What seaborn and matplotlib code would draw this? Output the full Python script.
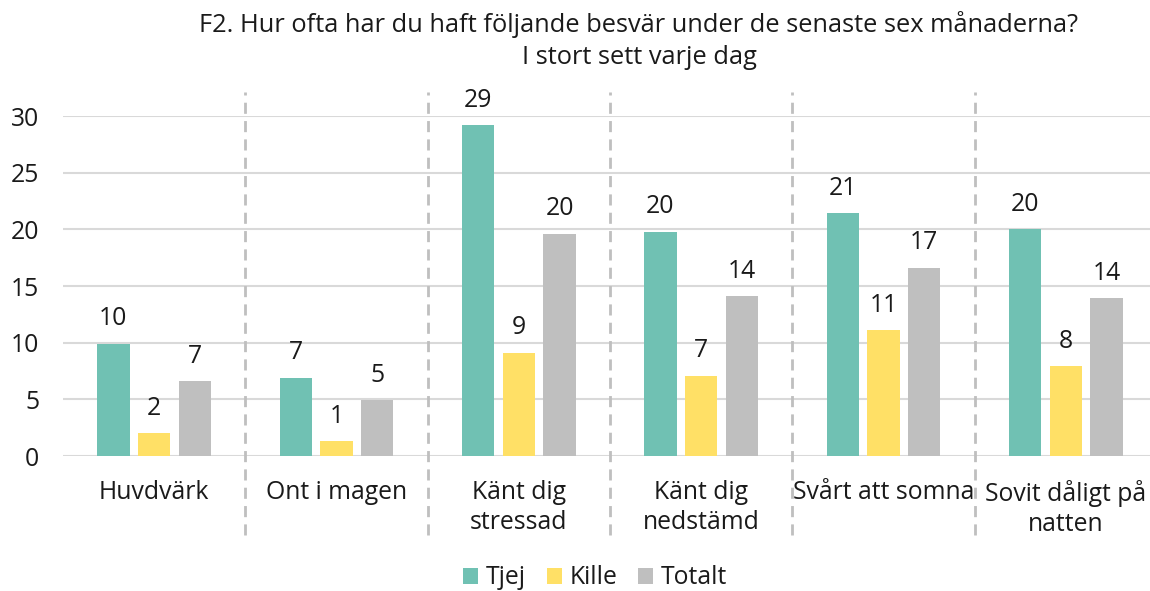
import pandas as pd
import matplotlib.pyplot as plt
import seaborn as sns
from matplotlib.transforms import blended_transform_factory

# Data (percent, "I stort sett varje dag")
categories = ['Huvdvärk', 'Ont i magen', 'Känt dig\nstressad', 'Känt dig\nnedstämd',
              'Svårt att somna', 'Sovit dåligt på\nnatten']
groups = ['Tjej', 'Kille', 'Totalt']
tjej = [9.9, 6.9, 29.2, 19.8, 21.4, 20.0]
kille = [2.0, 1.3, 9.1, 7.1, 11.1, 7.9]
totalt = [6.6, 4.9, 19.6, 14.1, 16.6, 13.9]
colors = ['#70C1B3', '#FFE066', '#BFBFBF']

df = pd.DataFrame({
    'Besvär': categories * 3,
    'Grupp': [g for g in groups for _ in categories],
    'Andel': tjej + kille + totalt,
})

sns.set_theme(style='white')
plt.rcParams['font.family'] = ['Open Sans', 'DejaVu Sans']
plt.rcParams['text.color'] = '#1a1a1a'
fs = 17.8

fig = plt.figure(figsize=(11.5, 5.91), dpi=100)
ax = fig.add_axes([63 / 1150, 135 / 591, 1094 / 1150, 340 / 591])

sns.barplot(data=df, x='Besvär', y='Andel', hue='Grupp', palette=colors,
            width=0.67, gap=0.21, linewidth=0, saturation=1, ax=ax)

ax.set_ylim(0, 30)
ax.set_yticks(range(0, 31, 5))
ax.set_xlabel('')
ax.set_ylabel('')
ax.yaxis.grid(True, color='#D9D9D9', linewidth=1.5)
ax.set_axisbelow(True)
sns.despine(ax=ax, left=True, bottom=True, top=True, right=True)
ax.tick_params(axis='y', length=0, pad=17, labelsize=fs, labelcolor='#1a1a1a')
ax.tick_params(axis='x', length=0, pad=17, labelsize=fs, labelcolor='#1a1a1a')
for lbl in ax.get_xticklabels():
    lbl.set_linespacing(1.3)

# value labels
for cont in ax.containers:
    ax.bar_label(cont, labels=[f'{v:.0f}' for v in cont.datavalues],
                 padding=9, fontsize=fs, color='#1a1a1a', clip_on=False)

# dashed separators between categories
trans = blended_transform_factory(ax.transData, ax.transAxes)
for i in range(len(categories) - 1):
    ax.plot([i + 0.5, i + 0.5], [-0.232, 1.071], transform=trans, clip_on=False,
            color='#BFBFBF', linewidth=2, linestyle=(0, (4, 2.6)))
ax.set_xlim(-0.5, len(categories) - 0.5)

# legend
handles, labels = ax.get_legend_handles_labels()
ax.legend(handles, labels, loc='center', bbox_to_anchor=(595 / 1150, 1 - 578 / 591),
          bbox_transform=fig.transFigure, ncol=3, frameon=False, fontsize=fs,
          handlelength=0.62, handleheight=0.62, handletextpad=0.3, columnspacing=0.85)

fig.text(639 / 1150, 1 - 25 / 591,
         'F2. Hur ofta har du haft följande besvär under de senaste sex månaderna?',
         ha='center', va='center', fontsize=18.3)
fig.text(639 / 1150, 1 - 58 / 591, 'I stort sett varje dag',
         ha='center', va='center', fontsize=18.3)

fig.savefig('out.png', dpi=100)
